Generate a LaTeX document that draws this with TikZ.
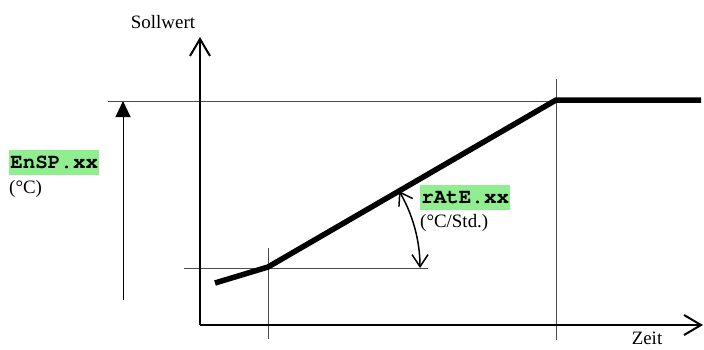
\documentclass[tikz,border=0pt]{standalone}
\usepackage{fontspec}
\setmainfont{Liberation Serif}
\newfontfamily\codefont{TeX Gyre Cursor}
\usetikzlibrary{arrows.meta}
\definecolor{codegreen}{RGB}{144,238,144}
\tikzset{
  thinline/.style={line width=1bp, draw=black!70},
  axisline/.style={line width=2bp, -{Straight Barb[length=17bp,width=20bp,line width=2bp]}},
  curveline/.style={line width=5.5bp, line join=miter},
  lbl/.style={font=\fontsize{19}{22}\selectfont, inner sep=0pt},
  codebox/.style={fill=codegreen, inner sep=0pt, minimum width=90bp, minimum height=25bp,
    font=\codefont\bfseries\fontsize{21}{24}\selectfont},
}
\begin{document}
\begin{tikzpicture}[x=1bp,y=-1bp]
\useasboundingbox (0,0) rectangle (704,349);
% points
\coordinate (O) at (200,325);
\coordinate (ytop) at (200,37);
\coordinate (xend) at (703,325);
\coordinate (c0) at (215,283);
\coordinate (c1) at (268,267);
\coordinate (c2) at (556,100);
\coordinate (c3) at (701,100);
\coordinate (h1a) at (108,101);
\coordinate (h1b) at (556,101);
\coordinate (h2a) at (184,268);
\coordinate (h2b) at (428,268);
\coordinate (v1a) at (268,248);
\coordinate (v1b) at (268,339);
\coordinate (v2a) at (556,79);
\coordinate (v2b) at (556,340);
\coordinate (sa) at (123,300);
\coordinate (sb) at (123,101);
% helper lines
\draw[thinline] (h1a) -- (h1b);
\draw[thinline] (h2a) -- (h2b);
\draw[thinline] (v1a) -- (v1b);
\draw[thinline] (v2a) -- (v2b);
% span arrow
\draw[line width=1bp, -{Triangle[length=16bp,width=15bp]}] (sa) -- (sb);
% axes
\draw[axisline] (O) -- (ytop);
\draw[axisline] (O) -- (xend);
% setpoint curve
\draw[curveline] (c0) -- (c1) -- (c2) -- (c3);
% angle arc
\draw[line width=1.5bp, {Straight Barb[length=12bp,width=16bp,line width=1.5bp]}-{Straight Barb[length=12bp,width=16bp,line width=1.5bp]}]
  (h2b) ++(-8,0) coordinate (arcstart) arc[start angle=0, end angle=-30.4, radius=152];
% labels
\node[lbl, anchor=base] (soll) at (163,28) {Sollwert};
\node[lbl, anchor=base] (zeit) at (647,344) {Zeit};
\node[codebox, anchor=north west] (ensp) at (9,150) {EnSP.xx};
\node[lbl, anchor=base west] (degc) at (9,193) {(°C)};
\node[codebox, anchor=north west] (rate) at (420,185) {rAtE.xx};
\node[lbl, anchor=base west] (degstd) at (420,227) {(°C/Std.)};
\end{tikzpicture}
\end{document}
